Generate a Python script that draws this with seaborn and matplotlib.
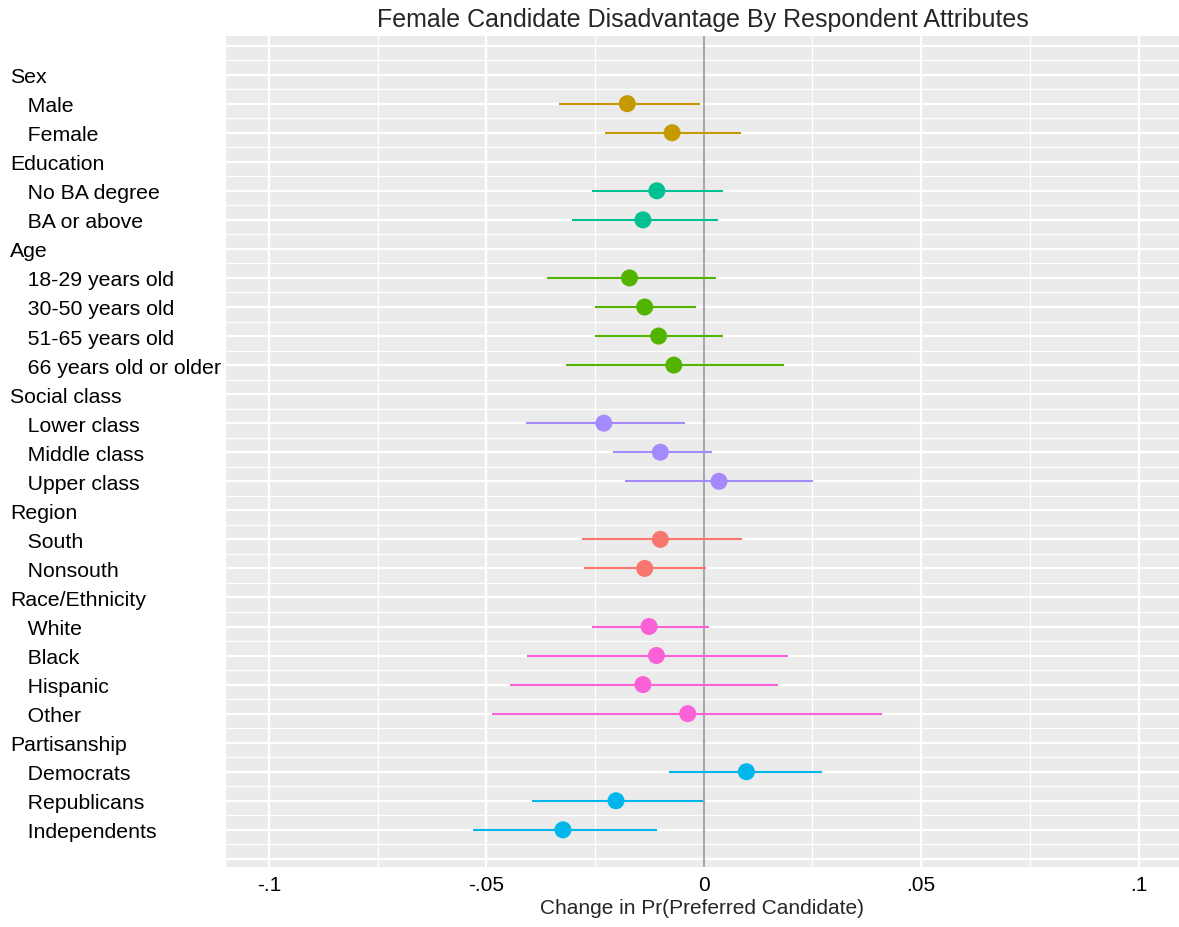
import matplotlib
matplotlib.use("Agg")
import matplotlib.pyplot as plt
import numpy as np
import pandas as pd
import seaborn as sns
from matplotlib.ticker import FixedLocator, MultipleLocator

# Respondent attribute groups and their levels (top to bottom)
groups = ["Sex", "Education", "Age", "Social class", "Region",
          "Race/Ethnicity", "Partisanship"]
levels = [
    ["Male", "Female"],
    ["No BA degree", "BA or above"],
    ["18-29 years old", "30-50 years old", "51-65 years old", "66 years old or older"],
    ["Lower class", "Middle class", "Upper class"],
    ["South", "Nonsouth"],
    ["White", "Black", "Hispanic", "Other"],
    ["Democrats", "Republicans", "Independents"],
]

# Estimated change in Pr(preferred candidate) and 95% interval bounds, per level
estimate = [
    -0.0176, -0.0073,
    -0.0108, -0.0140,
    -0.0171, -0.0136, -0.0104, -0.0069,
    -0.0230, -0.0100, 0.0035,
    -0.0100, -0.0136,
    -0.0126, -0.0109, -0.0140, -0.0037,
    0.0098, -0.0202, -0.0324,
]
ci_low = [
    -0.0333, -0.0227,
    -0.0258, -0.0303,
    -0.0361, -0.0250, -0.0250, -0.0317,
    -0.0410, -0.0209, -0.0182,
    -0.0280, -0.0276,
    -0.0258, -0.0406, -0.0445, -0.0487,
    -0.0080, -0.0396, -0.0531,
]
ci_high = [
    -0.0009, 0.0085,
    0.0045, 0.0032,
    0.0027, -0.0018, 0.0045, 0.0184,
    -0.0044, 0.0018, 0.0251,
    0.0089, 0.0004,
    0.0013, 0.0193, 0.0170, 0.0411,
    0.0273, -0.0001, -0.0107,
]

group_colors = ["#C49A00", "#00C094", "#53B400", "#A58AFF", "#F8766D",
                "#FB61D7", "#00B6EB"]

x_ticks = [-0.1, -0.05, 0.0, 0.05, 0.1]
x_tick_labels = ["-.1", "-.05", "0", ".05", ".1"]

# Lay out rows: a header row per group followed by indented level rows
row_labels = []
records = []
row = 1
k = 0
for g, lv in zip(groups, levels):
    row_labels.append(g)
    row += 1
    for name in lv:
        row_labels.append("   " + name)
        records.append({"group": g, "level": name, "row": row,
                        "est": estimate[k], "lo": ci_low[k], "hi": ci_high[k]})
        row += 1
        k += 1
df = pd.DataFrame(records)
n_rows = len(row_labels)

sns.set_theme(style="darkgrid", rc={
    "axes.facecolor": "#EBEBEB",
    "grid.color": "white",
})
plt.rcParams["font.family"] = ["Liberation Sans", "DejaVu Sans"]

fig = plt.figure(figsize=(11.79, 9.28), dpi=100)
ax = fig.add_axes([226 / 1179, 1 - 868 / 928, 1 - 226 / 1179, (868 - 37) / 928])

palette = dict(zip(groups, group_colors))

# Interval lines
ax.hlines(df["row"], df["lo"], df["hi"], colors=[palette[g] for g in df["group"]],
          linewidth=1.5, zorder=3)
# Point estimates
sns.scatterplot(data=df, x="est", y="row", hue="group", palette=palette,
                s=150, linewidth=0, legend=False, ax=ax, zorder=4)

ax.axvline(0, color="#A8A8A8", linewidth=1.5, zorder=2)

# Axes ranges
ax.set_xlim(-0.1099, 0.1093)
ax.set_ylim(n_rows + 1 + 0.28, -0.33)

# Gridlines
ax.xaxis.set_major_locator(FixedLocator(x_ticks))
ax.xaxis.set_minor_locator(FixedLocator([-0.075, -0.025, 0.025, 0.075]))
ax.set_xticklabels(x_tick_labels)
ax.yaxis.set_major_locator(FixedLocator(list(range(0, n_rows + 2))))
ax.yaxis.set_minor_locator(MultipleLocator(0.5))
ax.set_yticklabels([""] + row_labels + [""])
ax.grid(which="major", color="white", linewidth=1.6)
ax.grid(which="minor", color="white", linewidth=0.9)
ax.set_axisbelow(True)

for side in ["top", "right", "bottom", "left"]:
    ax.spines[side].set_visible(False)

ax.tick_params(axis="y", which="major", length=3, width=1, color="#4D4D4D",
               pad=152.5, labelsize=15.3, labelcolor="black")
ax.tick_params(axis="x", which="major", length=3.5, width=1, color="#8C8C8C",
               pad=2.5, labelsize=15, labelcolor="black")
ax.tick_params(which="minor", length=0)
for lab in ax.get_yticklabels():
    lab.set_horizontalalignment("left")
    lab.set_verticalalignment("center_baseline")
ytk = ax.yaxis.get_major_ticks()
ytk[0].tick1line.set_visible(False)
ytk[-1].tick1line.set_visible(False)

ax.set_xlabel("Change in Pr(Preferred Candidate)", fontsize=15, labelpad=3)
ax.set_ylabel("")
ax.set_title("Female Candidate Disadvantage By Respondent Attributes",
             fontsize=18, pad=7)

fig.savefig("out.png", dpi=100)
